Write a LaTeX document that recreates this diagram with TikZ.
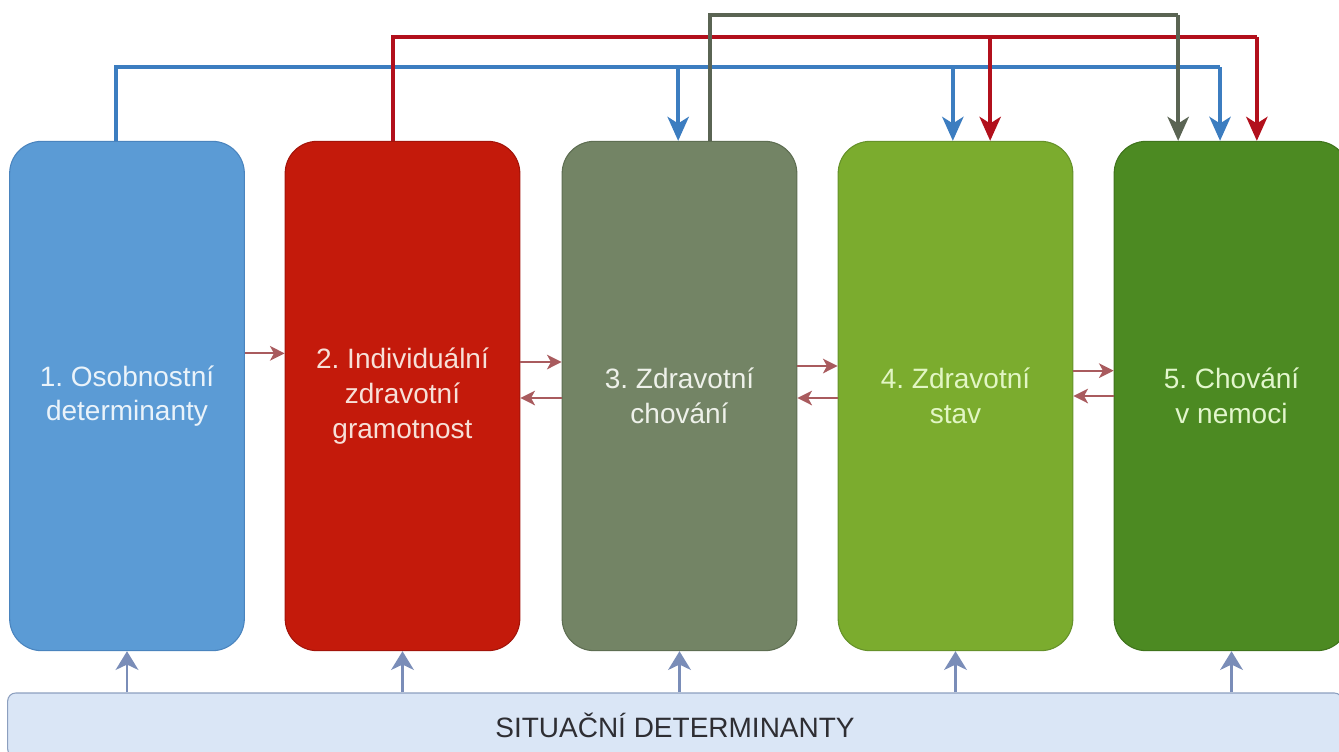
\documentclass[tikz,border=0pt]{standalone}
\usepackage{fontspec}
\setmainfont{Liberation Sans}
\usepackage{tikz, xcolor}
\usetikzlibrary{arrows.meta}
\frenchspacing

\definecolor{fillA}{HTML}{5B9BD5}
\definecolor{drawA}{HTML}{4A84BE}
\definecolor{textA}{HTML}{EAF3FA}
\definecolor{fillB}{HTML}{C41A0B}
\definecolor{drawB}{HTML}{A3140A}
\definecolor{textB}{HTML}{F7E0D8}
\definecolor{fillC}{HTML}{738465}
\definecolor{drawC}{HTML}{5E6E52}
\definecolor{textC}{HTML}{EEF1EA}
\definecolor{fillD}{HTML}{7BAC2E}
\definecolor{drawD}{HTML}{66922A}
\definecolor{textD}{HTML}{E2F6C4}
\definecolor{fillE}{HTML}{4C8A22}
\definecolor{drawE}{HTML}{3F741C}
\definecolor{textE}{HTML}{E2F6CC}
\definecolor{barfill}{HTML}{DAE6F6}
\definecolor{bardraw}{HTML}{8C9FBF}
\definecolor{bartext}{HTML}{2E2E33}
\definecolor{bluefeed}{HTML}{3C7DC0}
\definecolor{redfeed}{HTML}{B2101C}
\definecolor{greyfeed}{HTML}{5A6453}
\definecolor{linkcol}{HTML}{A95B5E}
\definecolor{upcol}{HTML}{7A8DB8}

\begin{document}
\begin{tikzpicture}
	[
		x=0.75pt, y=-0.75pt,
		box/.style={rounded corners=24pt, minimum width=176pt, minimum height=382pt, inner sep=0pt, line width=0.8pt, align=center, font=\fontsize{21}{26}\selectfont},
		lane/.style={line width=2.6pt},
		feed/.style={line width=2.6pt, -{Stealth[length=18pt,width=16pt,inset=5pt]}},
		link/.style={draw=linkcol, line width=1.5pt, -{Stealth[length=11pt,width=11pt,inset=3pt]}},
		situ/.style={draw=upcol, line width=2.2pt, -{Stealth[length=14pt,width=17pt,inset=4pt]}}
	]

	% Keep the frame of the figure.
	\clip (0,0) rectangle (1339,751);

	% Draw the five boxes.
	\node[box, fill=fillA, draw=drawA, text=textA] (b1) at (127,396) {1. Osobnostní\\determinanty};
	\node[box, fill=fillB, draw=drawB, text=textB] (b2) at (402.5,396) {2. Individuální\\zdravotní\\gramotnost};
	\node[box, fill=fillC, draw=drawC, text=textC] (b3) at (679.5,396) {3. Zdravotní\\chování};
	\node[box, fill=fillD, draw=drawD, text=textD] (b4) at (955.5,396) {4. Zdravotní\\stav};
	\node[box, fill=fillE, draw=drawE, text=textE] (b5) at (1231.5,396) {5. Chování\\v nemoci};

	% Draw the bar at the bottom.
	\node[fill=barfill, draw=bardraw, line width=0.8pt, rounded corners=6pt, minimum width=1001pt, minimum height=48pt, text=bartext, font=\fontsize{21}{24}\selectfont] (bar) at (675,725) {SITUAČNÍ DETERMINANTY};

	% Lanes and end points of the lines on top.
	\coordinate (lane1) at (0,67);
	\coordinate (lane2) at (0,37);
	\coordinate (lane3) at (0,15);
	\coordinate (s1) at ([xshift=-8.25pt]b1.north);
	\coordinate (t13) at ([xshift=-1pt]b3.north);
	\coordinate (t14) at ([xshift=-2pt]b4.north);
	\coordinate (t15) at ([xshift=-8.6pt]b5.north);
	\coordinate (s2) at ([xshift=-7pt]b2.north);
	\coordinate (t24) at ([xshift=26pt]b4.north);
	\coordinate (t25) at ([xshift=19pt]b5.north);
	\coordinate (s3) at ([xshift=23pt]b3.north);
	\coordinate (t35) at ([xshift=-40pt]b5.north);

	% Blue lines from box 1.
	\draw[lane, bluefeed] (s1) |- (t15 |- lane1);
	\draw[feed, draw=bluefeed] (t13 |- lane1) -- (t13);
	\draw[feed, draw=bluefeed] (t14 |- lane1) -- (t14);
	\draw[feed, draw=bluefeed] (t15 |- lane1) -- (t15);

	% Red lines from box 2.
	\draw[lane, redfeed] (s2) |- (t25 |- lane2);
	\draw[feed, draw=redfeed] (t24 |- lane2) -- (t24);
	\draw[feed, draw=redfeed] (t25 |- lane2) -- (t25);

	% Grey line from box 3.
	\draw[lane, greyfeed] (s3) |- (t35 |- lane3);
	\draw[feed, draw=greyfeed] (t35 |- lane3) -- (t35);

	% Arrows between neighbouring boxes.
	\draw[link] ([yshift=32pt]b1.east) -- ([yshift=32pt]b2.west);
	\draw[link] ([yshift=25.5pt]b2.east) -- ([yshift=25.5pt]b3.west);
	\draw[link] ([yshift=-1.5pt]b3.west) -- ([yshift=-1.5pt]b2.east);
	\draw[link] ([yshift=22.5pt]b3.east) -- ([yshift=22.5pt]b4.west);
	\draw[link] ([yshift=-1.5pt]b4.west) -- ([yshift=-1.5pt]b3.east);
	\draw[link] ([yshift=19pt]b4.east) -- ([yshift=19pt]b5.west);
	\draw[link] ([yshift=0pt]b5.west) -- ([yshift=0pt]b4.east);

	% Arrows up from the bar.
	\draw[situ] (b1 |- bar.north) -- (b1.south);
	\draw[situ] (b2 |- bar.north) -- (b2.south);
	\draw[situ] (b3 |- bar.north) -- (b3.south);
	\draw[situ] (b4 |- bar.north) -- (b4.south);
	\draw[situ] (b5 |- bar.north) -- (b5.south);
\end{tikzpicture}
\end{document}
